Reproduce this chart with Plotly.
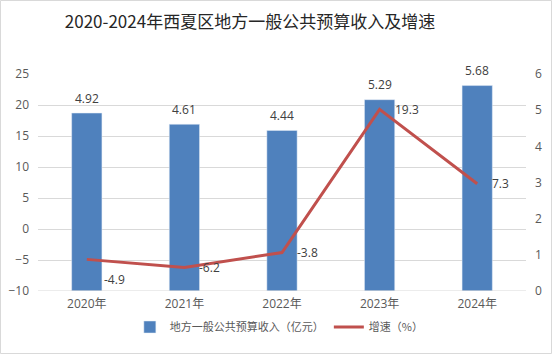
import plotly.graph_objects as go

years = ["2020年", "2021年", "2022年", "2023年", "2024年"]
revenue = [4.92, 4.61, 4.44, 5.29, 5.68]
growth = [-4.9, -6.2, -3.8, 19.3, 7.3]
left_ticks = [-10, -5, 0, 5, 10, 15, 20, 25]
right_ticks = [0, 1, 2, 3, 4, 5, 6]

FONT = "Open Sans, Noto Sans CJK SC, sans-serif"
W, H = 552, 354
L, R, T, B = 38, 26, 74, 63
pw, ph = W - L - R, H - T - B

fig = go.Figure()
fig.add_trace(go.Bar(
    x=years, y=revenue, name="地方一般公共预算收入（亿元）",
    marker_color="#4f81bd", yaxis="y",
))
fig.add_trace(go.Scatter(
    x=years, y=growth, name="增速（%）", mode="lines", yaxis="y2",
    line=dict(color="#c0504d", width=3),
))

lab_font = dict(size=12, color="#404040", family=FONT)
for yr, v in zip(years, revenue):
    fig.add_annotation(x=yr, y=v, xref="x", yref="y", text=f"{v:.2f}", showarrow=False,
                       yshift=15, xanchor="center", yanchor="middle", font=lab_font)
for i, (yr, v) in enumerate(zip(years, growth)):
    fig.add_annotation(x=yr, y=v, xref="x", yref="y2", text=f"{v:.1f}", showarrow=False,
                       xshift=13 if i else 15, yshift=0 if i else -20,
                       xanchor="left", yanchor="middle", font=lab_font)

fig.update_layout(
    width=W, height=H,
    margin=dict(l=L, r=R, t=T, b=B, autoexpand=False),
    paper_bgcolor="white", plot_bgcolor="white",
    font=dict(family=FONT, color="#595959", size=11),
    title=dict(text="2020-2024年西夏区地方一般公共预算收入及增速",
               x=250 / W, xanchor="center", y=1 - 22 / H, yanchor="middle",
               font=dict(size=17, color="#262626", family="Noto Sans CJK SC, sans-serif")),
    bargap=0.69,
    xaxis=dict(showgrid=False, showline=False, ticks="", ticklabelstandoff=4,
               tickfont=dict(size=12, color="#595959")),
    yaxis2=dict(range=[-10, 25], tickvals=left_ticks, showgrid=True, gridcolor="#d9d9d9",
                gridwidth=1, zeroline=False, showline=False, ticks="", ticklabelstandoff=8,
                overlaying="y", side="left",
                tickfont=dict(size=12, color="#595959")),
    yaxis=dict(range=[0, 6], tickvals=right_ticks, side="right",
               showgrid=False, zeroline=False, showline=False, ticks="", ticklabelstandoff=8,
               tickfont=dict(size=12, color="#595959")),
    legend=dict(orientation="h", x=273 / W, xanchor="center", y=1 - 327 / H,
                yref="container", yanchor="middle", traceorder="normal",
                font=dict(size=11, color="#595959", family="Noto Sans CJK SC, sans-serif")),
    showlegend=True,
)

fig.add_shape(type="line", xref="paper", yref="y2", x0=0, x1=1, y0=0, y1=0,
              line=dict(color="#ffffff", width=1), layer="between")
fig.add_shape(type="line", xref="paper", yref="y2", x0=0, x1=1, y0=-10, y1=-10,
              line=dict(color="#d9d9d9", width=1), layer="above")
fig.add_shape(type="rect", xref="paper", yref="paper",
              x0=-(L - 0.5) / pw, x1=(W - L - 0.5) / pw,
              y0=-(B - 0.5) / ph, y1=(H - B - 0.5) / ph,
              line=dict(color="#d9d9d9", width=1), layer="below")

fig.write_html("out.html")
